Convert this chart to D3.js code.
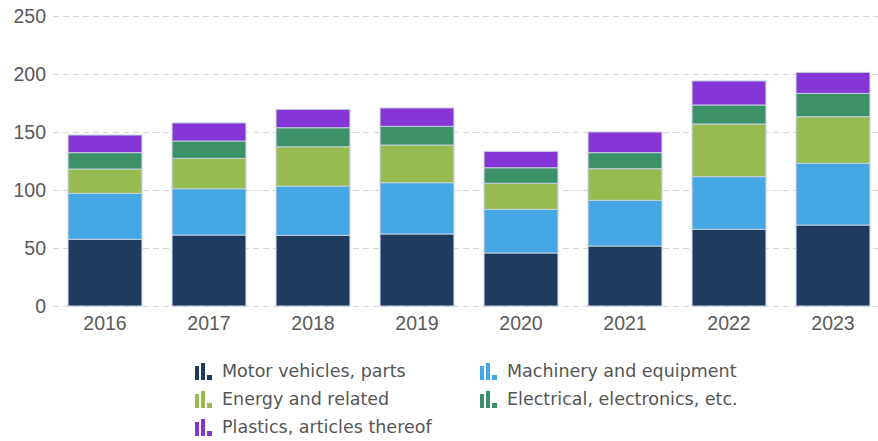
<!DOCTYPE html>
<html>
<head>
<meta charset="utf-8">
<script src="https://cdn.jsdelivr.net/npm/d3@7"></script>
<style>
body{margin:0;background:#fff;}
svg{display:block;font-family:"DejaVu Sans",Verdana,sans-serif;}
.tick text{fill:#595959;}
</style>
</head>
<body>
<svg width="878" height="441"></svg>
<script>
// values
var years=["2016","2017","2018","2019","2020","2021","2022","2023"];
var motor=[57.5,61.2,60.9,62.1,45.7,51.7,66.1,69.8];
var machinery=[39.6,39.9,42.5,44.2,37.6,39.4,45.4,53.2];
var energy=[21.0,26.2,33.9,32.5,22.5,27.3,45.4,40.2];
var electrical=[14.1,14.9,16.4,16.1,13.4,13.8,16.4,20.1];
var plastics=[15.2,15.6,15.8,15.8,14.1,17.8,20.7,18.1];
var seriesNames=["Motor vehicles, parts","Machinery and equipment","Energy and related","Electrical, electronics, etc.","Plastics, articles thereof"];
var yTicks=[0,50,100,150,200,250];

var colors=["#1f3a5f","#45a8e5","#96bb4e","#3d9169","#8437d6"];
var width=878,height=441;
var svg=d3.select("svg");

var rows=years.map(function(y,i){
	return {year:y,s0:motor[i],s1:machinery[i],s2:energy[i],s3:electrical[i],s4:plastics[i]};
});
var keys=["s0","s1","s2","s3","s4"];
var stacked=d3.stack().keys(keys)(rows);

var x=d3.scaleBand().domain(years).range([53,885]).paddingInner(0.29).paddingOuter(0.145);
var y=d3.scaleLinear().domain([0,250]).range([306,16]);

// grid
svg.append("g").selectAll("line").data(yTicks).enter().append("line")
	.attr("x1",53).attr("x2",width)
	.attr("y1",function(d){return y(d)+0.5;}).attr("y2",function(d){return y(d)+0.5;})
	.attr("stroke","#d6d6d6").attr("stroke-dasharray","6,4");

// y axis labels
var yAxis=svg.append("g").attr("transform","translate(53,0)")
	.call(d3.axisLeft(y).tickValues(yTicks).tickSize(0).tickPadding(7));
yAxis.select(".domain").remove();
yAxis.selectAll("text").style("font-size","19.5px");

// bars
svg.append("g").selectAll("g").data(stacked).enter().append("g")
	.attr("fill",function(d,i){return colors[i];})
	.selectAll("rect").data(function(d){return d;}).enter().append("rect")
	.attr("x",function(d){return x(d.data.year);})
	.attr("width",x.bandwidth())
	.attr("y",function(d){return y(d[1]);})
	.attr("height",function(d){return y(d[0])-y(d[1]);})
	.attr("stroke","#c3cede").attr("stroke-width",1);

// x axis labels
var xAxis=svg.append("g").attr("transform","translate(0,306)")
	.call(d3.axisBottom(x).tickSize(0).tickPadding(10));
xAxis.select(".domain").remove();
xAxis.selectAll("text").style("font-size","19.5px");

// legend
var legendPos=[[195,371],[480,371],[195,399],[480,399],[195,427]];
var lg=svg.append("g").selectAll("g").data(seriesNames).enter().append("g")
	.attr("transform",function(d,i){return "translate("+legendPos[i][0]+","+legendPos[i][1]+")";});
lg.each(function(d,i){
	var g=d3.select(this);
	g.append("rect").attr("x",0).attr("y",-5).attr("width",4).attr("height",14).attr("fill",colors[i]);
	g.append("rect").attr("x",6).attr("y",-8).attr("width",4).attr("height",17).attr("fill",colors[i]);
	g.append("rect").attr("x",12).attr("y",4).attr("width",5).attr("height",5).attr("fill",colors[i]);
});
lg.append("text").attr("x",27).attr("y",0).attr("dy","0.35em")
	.style("font-size","17.5px").attr("fill","#555")
	.text(function(d){return d;});
</script>
</body>
</html>
